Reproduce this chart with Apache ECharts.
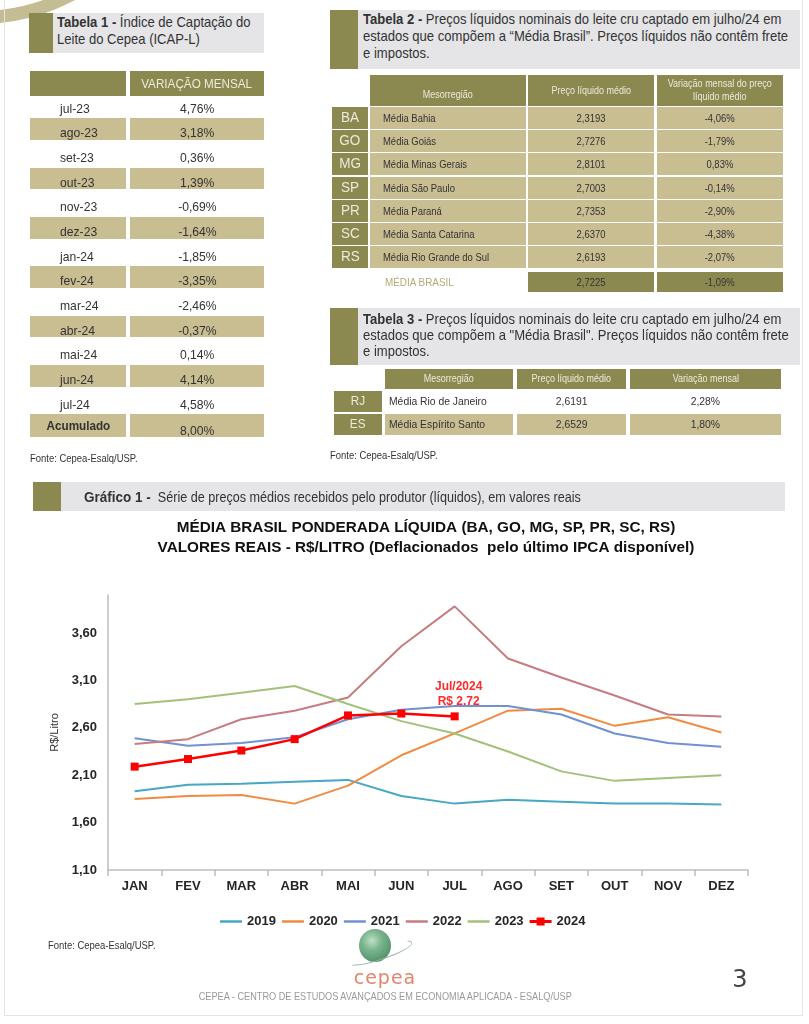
<!DOCTYPE html>
<html><head><meta charset="utf-8">
<script src="https://cdn.jsdelivr.net/npm/echarts@6/dist/echarts.min.js"></script>
<style>
html,body{margin:0;padding:0;background:#fff;}
body{width:809px;height:1024px;position:relative;overflow:hidden;}
#chart{position:absolute;left:0;top:470px;width:809px;height:470px;}
.n{display:inline-block;transform:scaleX(0.9);}
</style></head>
<body>
<div id="chart"></div>
<script>
// ---------- DATA ----------
const t1Months = ['jul-23','ago-23','set-23','out-23','nov-23','dez-23','jan-24','fev-24','mar-24','abr-24','mai-24','jun-24','jul-24'];
const t1Values = ['4,76%','3,18%','0,36%','1,39%','-0,69%','-1,64%','-1,85%','-3,35%','-2,46%','-0,37%','0,14%','4,14%','4,58%'];
const t1Total = ['Acumulado','8,00%'];

const t2Abbr = ['BA','GO','MG','SP','PR','SC','RS'];
const t2Names = ['Média Bahia','Média Goiás','Média Minas Gerais','Média São Paulo','Média Paraná','Média Santa Catarina','Média Rio Grande do Sul'];
const t2Prices = ['2,3193','2,7276','2,8101','2,7003','2,7353','2,6370','2,6193'];
const t2Var = ['-4,06%','-1,79%','0,83%','-0,14%','-2,90%','-4,38%','-2,07%'];
const t2Total = ['MÉDIA BRASIL','2,7225','-1,09%'];

const t3Abbr = ['RJ','ES'];
const t3Names = ['Média Rio de Janeiro','Média Espírito Santo'];
const t3Prices = ['2,6191','2,6529'];
const t3Var = ['2,28%','1,80%'];

const months = ['JAN','FEV','MAR','ABR','MAI','JUN','JUL','AGO','SET','OUT','NOV','DEZ'];
const s2019 = [1.93,2.00,2.01,2.03,2.05,1.88,1.80,1.84,1.82,1.80,1.80,1.79];
const s2020 = [1.85,1.88,1.89,1.80,1.99,2.31,2.54,2.78,2.80,2.62,2.71,2.55];
const s2021 = [2.49,2.41,2.44,2.50,2.69,2.79,2.83,2.83,2.74,2.54,2.44,2.40];
const s2022 = [2.43,2.48,2.69,2.78,2.92,3.46,3.88,3.33,3.13,2.94,2.74,2.72];
const s2023 = [2.85,2.90,2.97,3.04,2.85,2.67,2.54,2.35,2.14,2.04,2.07,2.10];
const s2024 = [2.19,2.27,2.36,2.48,2.73,2.75,2.72];
const yearNames = ['2019','2020','2021','2022','2023','2024'];

// ---------- STYLE ----------
const OLIVE = '#8c8950', TAN = '#c9bd92', GRAY = '#e5e5e7', CREAM = '#eceadb', INK = '#333';
const SANS = '"Liberation Sans", Arial, sans-serif';

function el(x, y, w, h, css, html, plain) {
  const d = document.createElement('div');
  css = css || '';
  d.style.cssText = `position:absolute;left:${x}px;top:${y}px;width:${w}px;height:${h}px;box-sizing:border-box;font-family:${SANS};color:${INK};white-space:nowrap;${css}`;
  if (html != null && html !== '') {
    if (plain) d.innerHTML = html;
    else {
      const origin = css.indexOf('text-align:center') >= 0 ? 'center' : 'left';
      d.innerHTML = `<span class="n" style="transform-origin:${origin} center">${html}</span>`;
    }
  }
  document.body.appendChild(d);
  return d;
}
function cell(x, y, w, h, bg, text, css) {
  return el(x, y, w, h, `background:${bg};text-align:center;line-height:${h}px;${css||''}`, text);
}

// page decorations
el(-220, -376, 400, 400, 'border-radius:50%;border:13px solid #c4bd93;');
el(4, -2, 799, 1018, 'border:1px solid #e4e4e4;border-top:none;');

// ---------- TABLE 1 ----------
el(29, 13, 24, 40, 'background:' + OLIVE);
el(53, 13, 211, 40, 'background:' + GRAY);
el(57, 14, 206, 40, 'font-size:14.5px;line-height:17px;', '<b>Tabela 1 -</b> Índice de Captação do<br>Leite do Cepea (ICAP-L)');
cell(30, 71, 96, 25, OLIVE, '');
cell(130, 71, 134, 25, OLIVE, 'VARIAÇÃO MENSAL', `color:${CREAM};font-size:13px;`);
t1Months.forEach((m, i) => {
  const top = 93.7 + 24.67 * i;
  if (i % 2 === 1) { cell(30, top, 96, 21.5, TAN, ''); cell(130, top, 134, 21.5, TAN, ''); }
  el(60, top + 6, 66, 18, 'font-size:13.5px;line-height:18px;', m);
  el(130, top + 6, 134, 18, 'font-size:13.5px;line-height:18px;text-align:center;', t1Values[i]);
});
{
  const top = 93.7 + 24.67 * 13;
  cell(30, top, 96, 22.5, TAN, t1Total[0], 'font-weight:bold;font-size:13px;line-height:24px;');
  cell(130, top, 134, 22.5, TAN, '');
  el(130, top + 8, 134, 18, 'font-size:13.5px;line-height:18px;text-align:center;', t1Total[1]);
}
el(30, 450, 200, 16, 'font-size:10.5px;line-height:16px;', 'Fonte: Cepea-Esalq/USP.');

// ---------- TABLE 2 ----------
el(330, 10, 28, 59, 'background:' + OLIVE);
el(358, 10, 442, 59, 'background:' + GRAY);
el(363, 11, 436, 58, 'font-size:14.5px;line-height:17px;',
  '<b>Tabela 2 -</b> Preços líquidos nominais do leite cru captado em julho/24 em<br>estados que compõem a “Média Brasil”. Preços líquidos não contêm frete<br>e impostos.');
cell(370, 75, 156, 31, OLIVE, 'Mesorregião', `color:${CREAM};font-size:10px;line-height:40px;`);
cell(528, 75, 126, 31, OLIVE, 'Preço líquido médio', `color:${CREAM};font-size:10px;line-height:32px;`);
el(657, 75, 126, 31, `background:${OLIVE};color:${CREAM};font-size:10px;line-height:13px;text-align:center;padding-top:2px;`, 'Variação mensal do preço<br>líquido médio');
t2Abbr.forEach((a, i) => {
  const top = 107 + 23.2 * i;
  cell(332, top, 36, 22, OLIVE, a, `color:${CREAM};font-size:15px;line-height:20px;`);
  el(370, top, 156, 22, `background:${TAN};font-size:10.5px;line-height:22px;padding-left:13px;`, t2Names[i]);
  cell(528, top, 126, 22, TAN, t2Prices[i], 'font-size:10.5px;');
  cell(657, top, 126, 22, TAN, t2Var[i], 'font-size:10.5px;');
});
el(385, 272, 140, 20, 'color:#b3ab78;font-size:11px;line-height:20px;', t2Total[0]);
cell(528, 272, 126, 20, OLIVE, t2Total[1], 'font-size:10.5px;');
cell(657, 272, 126, 20, OLIVE, t2Total[2], 'font-size:10.5px;');

// ---------- TABLE 3 ----------
el(330, 308, 28, 57, 'background:' + OLIVE);
el(358, 308, 442, 57, 'background:' + GRAY);
el(363, 311, 436, 54, 'font-size:14.5px;line-height:16px;',
  '<b>Tabela 3 -</b> Preços líquidos nominais do leite cru captado em julho/24 em<br>estados que compõem a "Média Brasil". Preços líquidos não contêm frete<br>e impostos.');
cell(385, 369, 128, 20, OLIVE, 'Mesorregião', `color:${CREAM};font-size:10px;`);
cell(517, 369, 109, 20, OLIVE, 'Preço líquido médio', `color:${CREAM};font-size:10px;`);
cell(630, 369, 151, 20, OLIVE, 'Variação mensal', `color:${CREAM};font-size:10px;`);
t3Abbr.forEach((a, i) => {
  const top = 391 + 23 * i, h = 20.5;
  const bg = i === 1 ? TAN : '#fff';
  cell(334, top, 48, h, OLIVE, a, `color:${CREAM};font-size:13px;`);
  el(385, top, 128, h, `background:${bg};font-size:11.5px;line-height:${h}px;padding-left:4px;`, t3Names[i]);
  cell(517, top, 109, h, bg, t3Prices[i], 'font-size:11.5px;');
  cell(630, top, 151, h, bg, t3Var[i], 'font-size:11.5px;');
});
el(330, 447, 200, 16, 'font-size:10.5px;line-height:16px;', 'Fonte: Cepea-Esalq/USP.');

// ---------- GRAFICO BANNER ----------
el(33, 482, 28, 29, 'background:' + OLIVE);
el(61, 482, 724, 29, 'background:' + GRAY);
el(84, 482, 700, 29, 'font-size:14px;line-height:29px;', '<b style="font-size:15px">Gráfico 1 -</b>&nbsp; Série de preços médios recebidos pelo produtor (líquidos), em valores reais');

// ---------- FOOTER ----------
el(48, 937, 200, 16, 'font-size:10.5px;line-height:16px;', 'Fonte: Cepea-Esalq/USP.');
el(359, 929, 32, 33, 'border-radius:50%;background:radial-gradient(circle at 40% 35%, #bfe0c8 0%, #79b48c 35%, #3f7d57 100%);');
el(346, 946, 68, 14, 'border-radius:50%;border:1px solid #9bb8a4;border-left-color:transparent;border-top-color:transparent;transform:rotate(-18deg);');
el(340, 966, 90, 22, 'font-family:"DejaVu Sans",sans-serif;font-size:19px;line-height:22px;color:#e2856d;text-align:center;letter-spacing:1px;', 'cepea', true);
el(150, 989, 470, 16, 'font-size:10.2px;line-height:16px;color:#9a9a9a;text-align:center;', 'CEPEA - CENTRO DE ESTUDOS AVANÇADOS EM ECONOMIA APLICADA - ESALQ/USP');
el(725, 964, 30, 30, 'font-family:"DejaVu Sans",sans-serif;font-size:24px;line-height:30px;color:#444;text-align:center;', '3', true);

// ---------- CHART ----------
const FONT = '"Liberation Sans", Arial, sans-serif';
const colors = ['#47a7c4', '#f08b42', '#7092d0', '#c77c80', '#a2c27a', '#ff0000'];
const seriesData = [s2019, s2020, s2021, s2022, s2023];
const series = seriesData.map((d, i) => ({
  name: yearNames[i], type: 'line', data: d, symbol: 'none',
  lineStyle: { width: 2, color: colors[i] }, itemStyle: { color: colors[i] }
}));
const d2024 = s2024.map((v, i) => i === s2024.length - 1 ? {
  value: v,
  label: { show: true, position: 'top', distance: 3, offset: [4, 0], formatter: 'Jul/2024\nR$ 2.72',
           color: '#ff2a2a', fontWeight: 'bold', fontSize: 12, lineHeight: 15, fontFamily: FONT }
} : v);
series.push({
  name: yearNames[5], type: 'line', data: d2024, symbol: 'rect', symbolSize: 8, z: 10,
  lineStyle: { width: 2.5, color: colors[5] }, itemStyle: { color: colors[5] }
});

const LINE_ICON = 'path://M0,0 L22,0 L22,2.5 L0,2.5 Z';
const MARK_ICON = 'path://M0,5.5 L22,5.5 L22,8.5 L0,8.5 Z M7,3 L15,3 L15,11 L7,11 Z';

const chart = echarts.init(document.getElementById('chart'), null, { renderer: 'canvas' });
chart.setOption({
  animation: false,
  title: {
    text: 'MÉDIA BRASIL PONDERADA LÍQUIDA (BA, GO, MG, SP, PR, SC, RS)\nVALORES REAIS - R$/LITRO (Deflacionados  pelo último IPCA disponível)',
    left: 421, top: 43, textAlign: 'center',
    textStyle: { fontFamily: FONT, fontSize: 15.3, fontWeight: 'bold', color: '#111', lineHeight: 20 }
  },
  legend: {
    data: yearNames.map((n, i) => ({ name: n, icon: i === 5 ? MARK_ICON : LINE_ICON })),
    left: 215, top: 440, itemWidth: 22, itemHeight: 14, itemGap: 6,
    textStyle: { fontFamily: FONT, fontSize: 13, fontWeight: 'bold', color: '#262626' }
  },
  grid: { left: 108, right: 61, top: 125, bottom: 70 },
  xAxis: {
    type: 'category', data: months, boundaryGap: true,
    axisLine: { lineStyle: { color: '#bdbdbd', width: 1.5 } },
    axisTick: { show: true, length: 6, lineStyle: { color: '#bdbdbd', width: 1.5 } },
    axisLabel: { fontFamily: FONT, fontSize: 13, fontWeight: 'bold', color: '#262626', margin: 10 }
  },
  yAxis: {
    type: 'value', min: 1.1, max: 4.0, interval: 0.5,
    name: 'R$/Litro', nameLocation: 'middle', nameGap: 48, nameRotate: 90,
    nameTextStyle: { fontFamily: FONT, fontSize: 11, color: '#333' },
    axisLine: { show: true, lineStyle: { color: '#bdbdbd', width: 1.5 } },
    axisTick: { show: false }, splitLine: { show: false },
    axisLabel: { fontFamily: FONT, fontSize: 13, fontWeight: 'bold', color: '#262626', margin: 11,
                 showMaxLabel: false, formatter: v => v.toFixed(2).replace('.', ',') }
  },
  series: series
});
</script>
</body></html>
